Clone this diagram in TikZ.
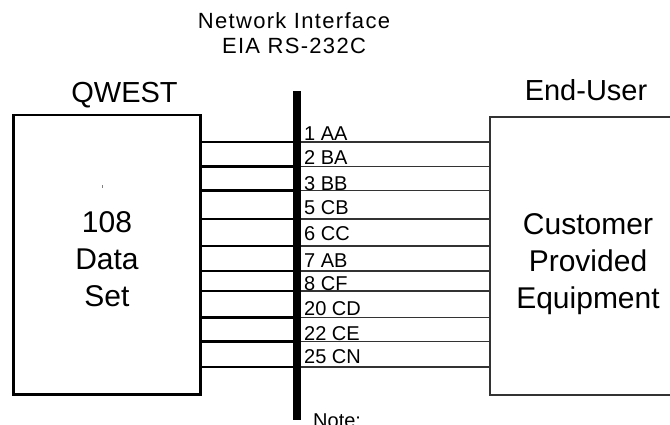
\documentclass[tikz,border=0pt]{standalone}
\usepackage{fontspec}
\setmainfont{Liberation Sans}
\usetikzlibrary{positioning}

\begin{document}
\begin{tikzpicture}[x=1pt, y=-1pt,
  unitbox/.style={draw, rectangle, inner sep=0pt},
  bigtext/.style={font=\fontsize{30}{37}\selectfont, align=center, inner sep=0pt},
  headtext/.style={font=\fontsize{29}{34}\selectfont, inner sep=0pt, anchor=base},
  titletext/.style={font=\fontsize{22}{25}\selectfont\addfontfeatures{LetterSpace=6}, inner sep=0pt, anchor=base},
  siglabel/.style={font=\fontsize{20}{24}\selectfont, inner sep=0pt, anchor=base west},
  wireL/.style={line width=2.2pt},
  wireR/.style={line width=1.3pt, black!80}]
\useasboundingbox (0,0) rectangle (670,424);
\node[titletext] (title1) at (294,28) {Network Interface};
\node[titletext] (title2) at (294,53) {EIA RS-232C};
\node[headtext] (qwesthead) at (124.5,102) {QWEST};
\node[headtext] (userhead) at (586,100) {End-User};
\node[unitbox, line width=2.7pt, minimum width=187pt, minimum height=279.5pt] (qwest) at (107,254.75) {};
\node[unitbox, line width=1.3pt, draw=black!80, minimum width=196pt, minimum height=278pt] (cpe) at (588,256) {};
\node[rectangle, fill=black, inner sep=0pt, minimum width=7.3pt, minimum height=329pt] (bar) at (297,255.5) {};
\node[bigtext, anchor=north] (qtext) at ([yshift=-97.5pt]qwest.north) {108\\Data\\Set};
\node[bigtext, anchor=north] (cpetext) at ([yshift=-96.6pt]cpe.north) {Customer\\Provided\\Equipment};
\fill[black!50] (102,184.5) rectangle (103.3,188.3);
\foreach \wy/\ly/\sig [count=\i] in {142/140/1 AA, 166.5/164/2 BA, 190.5/190/3 BB, 219/214/5 CB, 246/240/6 CC, 271/267/7 AB, 291/290/8 CF, 317.5/315/20 CD, 341.5/340.5/22 CE, 367/363.5/25 CN} {
  \coordinate (w\i) at (0,\wy);
  \draw[wireL] (qwest.east |- w\i) -- (bar.west |- w\i);
  \draw[wireR] (bar.east |- w\i) -- (cpe.west |- w\i);
  \node[siglabel] (sig\i) at (304,\ly) {\sig};
}
\node[siglabel] (note) at (313,427) {Note:};
\end{tikzpicture}
\end{document}
